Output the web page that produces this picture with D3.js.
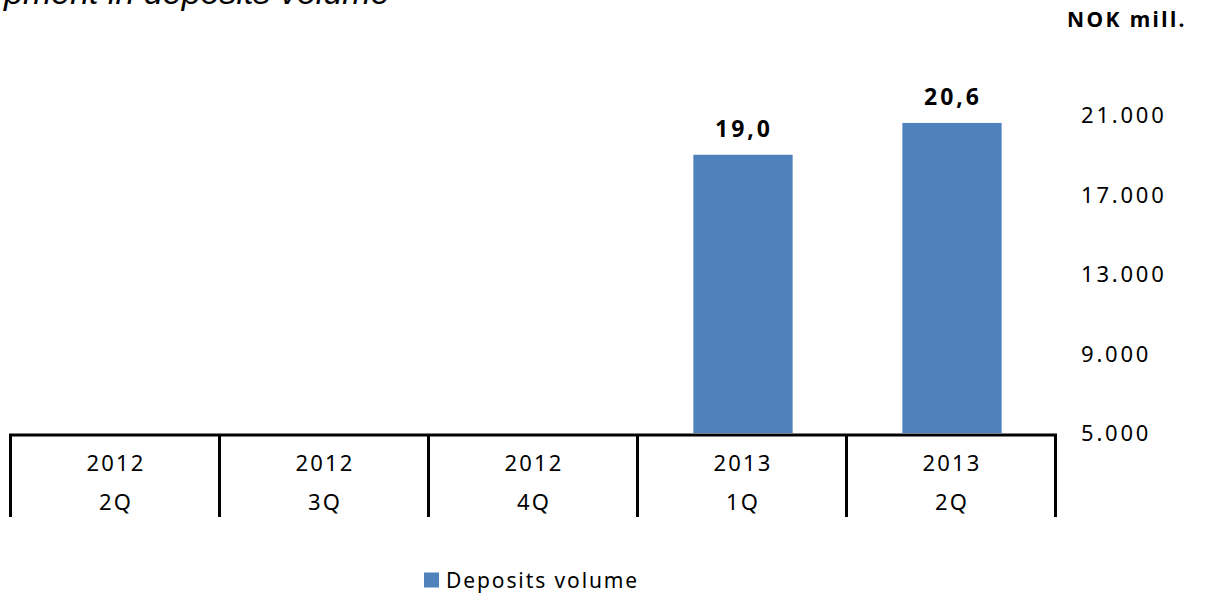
<!DOCTYPE html>
<html>
<head>
<meta charset="utf-8">
<script src="https://cdn.jsdelivr.net/npm/d3@7"></script>
<style>
  html, body { margin: 0; padding: 0; background: #fff; }
  svg { display: block; }
  text { font-family: "Noto Sans", "Open Sans", sans-serif; fill: #000; }
</style>
</head>
<body>
<svg id="chart" width="1205" height="594"></svg>
<script>
// ---- data ----
const years    = ["2012", "2012", "2012", "2013", "2013"];
const quarters = ["2Q", "3Q", "4Q", "1Q", "2Q"];
const depositsVolume = [null, null, null, 19000, 20600];   // NOK mill.
const yTicks = [5000, 9000, 13000, 17000, 21000];
const seriesName = "Deposits volume";
const unitLabel = "NOK mill.";
const titleText = "pment in deposits volume";

// ---- setup ----
const svg = d3.select("#chart");
const categories = years.map((y, i) => y + " " + quarters[i] + "#" + i);
const data = categories.map((c, i) => ({ key: c, year: years[i], q: quarters[i], value: depositsVolume[i] }));

const x = d3.scaleBand().domain(categories).range([10.5, 1055.5]).padding(0);
const y = d3.scaleLinear().domain([5000, 21000]).range([433, 115]);

const loc = d3.formatLocale({ decimal: ",", thousands: ".", grouping: [3], currency: ["", ""] });
const fmtTick = loc.format(",.0f");
const fmtLabel = loc.format(".1f");

const barColor = "#4F81BD";
const barW = x.bandwidth() * 0.475;

// title (cut off at top-left like the reference)
svg.append("text")
  .attr("x", 4).attr("y", 3.5)
  .style("font-family", "'Liberation Sans', Arial, sans-serif")
  .attr("font-style", "italic")
  .attr("font-size", 34)
  .text(titleText);

// unit label
svg.append("text")
  .attr("x", 1067).attr("y", 27)
  .attr("font-weight", "bold")
  .attr("font-size", 21)
  .attr("letter-spacing", 2.4)
  .text(unitLabel);

// bars
const bars = data.filter(d => d.value != null);
svg.selectAll("rect.bar").data(bars).join("rect")
  .attr("class", "bar")
  .attr("x", d => x(d.key) + x.bandwidth() / 2 - barW / 2 + 1)
  .attr("y", d => y(d.value))
  .attr("width", barW)
  .attr("height", d => y(5000) - y(d.value))
  .attr("fill", barColor);

// bar labels
svg.selectAll("text.vlabel").data(bars).join("text")
  .attr("class", "vlabel")
  .attr("x", d => x(d.key) + x.bandwidth() / 2 + 2)
  .attr("y", d => y(d.value) - 18)
  .attr("text-anchor", "middle")
  .attr("font-weight", "bold")
  .attr("font-size", 23)
  .attr("letter-spacing", 3)
  .text(d => fmtLabel(d.value / 1000));

// right value axis (labels only)
const yAxis = d3.axisRight(y).tickValues(yTicks).tickFormat(fmtTick).tickSize(0).tickPadding(0);
const yg = svg.append("g").attr("transform", "translate(1081,0)").call(yAxis);
yg.select(".domain").remove();
yg.selectAll("text")
  .attr("font-size", 22)
  .attr("letter-spacing", 2.8)
  .attr("dy", "0.36em")
  .style("font-family", "'Noto Sans', 'Open Sans', sans-serif")
  .attr("fill", "#000");

// category axis: baseline and dividers
const axisY = 435;
svg.append("line")
  .attr("x1", 9).attr("x2", 1057)
  .attr("y1", axisY).attr("y2", axisY)
  .attr("stroke", "#000").attr("stroke-width", 3);

const edges = categories.map(c => x(c)).concat([x.range()[1]]);
svg.selectAll("line.div").data(edges).join("line")
  .attr("class", "div")
  .attr("x1", d => d).attr("x2", d => d)
  .attr("y1", axisY).attr("y2", 517)
  .attr("stroke", "#000").attr("stroke-width", 3);

const catG = svg.selectAll("g.cat").data(data).join("g")
  .attr("class", "cat")
  .attr("transform", d => `translate(${x(d.key) + x.bandwidth() / 2 + 1},0)`);
catG.append("text")
  .attr("y", 471).attr("text-anchor", "middle")
  .attr("font-size", 22).attr("letter-spacing", 2.2)
  .text(d => d.year);
catG.append("text")
  .attr("y", 510).attr("text-anchor", "middle")
  .attr("font-size", 22).attr("letter-spacing", 2.2)
  .text(d => d.q);

// legend
svg.append("rect")
  .attr("x", 424).attr("y", 572.5).attr("width", 15).attr("height", 15)
  .attr("fill", barColor);
svg.append("text")
  .attr("x", 446).attr("y", 588)
  .attr("font-size", 21).attr("letter-spacing", 1.9)
  .text(seriesName);
</script>
</body>
</html>
